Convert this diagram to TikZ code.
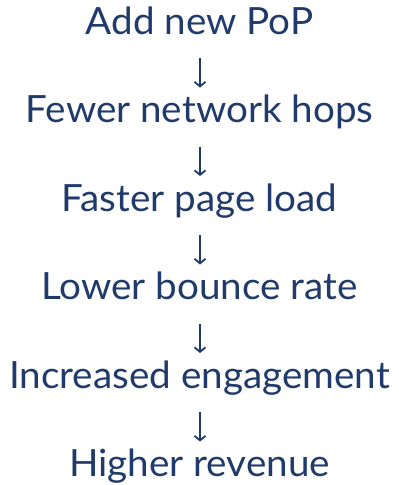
\documentclass[tikz,border=0pt]{standalone}
\usepackage{fontspec}
\setmainfont{Lato}
\usetikzlibrary{arrows.meta}
\definecolor{navy}{HTML}{1F3A6B}
\tikzset{
  lbl/.style={anchor=base, text=navy, font=\fontsize{37.5}{42}\selectfont, inner sep=0pt, xscale=1.03},
  arr/.style={draw=navy, line width=1.8pt, -{Straight Barb[length=4.5pt,width=11pt,line width=1.8pt]}}
}
\begin{document}
\begin{tikzpicture}[x=1pt,y=1pt]
\useasboundingbox (0,0) rectangle (399,-485);
\node[lbl] (a) at (199.5,-34) {Add new PoP};
\node[lbl] (b) at (199.5,-122.5) {Fewer network hops};
\node[lbl] (c) at (199.5,-211) {Faster page load};
\node[lbl] (d) at (199.5,-299.5) {Lower bounce rate};
\node[lbl] (e) at (199.5,-388) {Increased engagement};
\node[lbl] (f) at (199.5,-476.5) {Higher revenue};
\foreach \u/\v in {a/b,b/c,c/d,d/e,e/f}
  \draw[arr] ([shift={(0.5,-24)}]\u.base) -- ([shift={(0.5,35)}]\v.base);
\end{tikzpicture}
\end{document}
